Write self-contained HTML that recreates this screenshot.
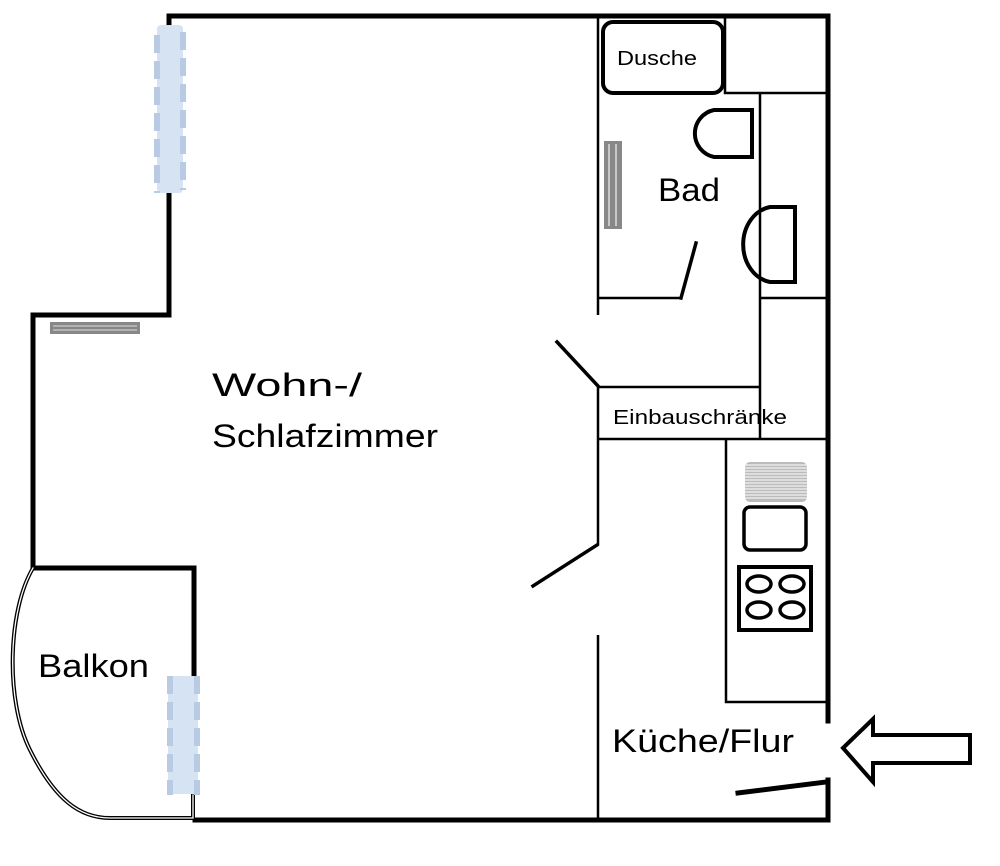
<!DOCTYPE html>
<html><head><meta charset="utf-8"><style>html,body{margin:0;padding:0;background:#fff;}svg{display:block}</style></head>
<body>
<svg width="1000" height="866" viewBox="0 0 1000 866" xmlns="http://www.w3.org/2000/svg" font-family="Liberation Sans, sans-serif">
<g stroke="#000" fill="none" stroke-linecap="square">
<!-- outer walls thick -->
<path d="M169 16 H828" stroke-width="5"/>
<path d="M169 16 V297" stroke-width="5"/>
<path d="M169 297 V315 H33 V568 H194 V680" stroke-width="5"/>
<path d="M195 820 H828 V780" stroke-width="5"/>
<path d="M828 16 V721" stroke-width="5"/>
<!-- balcony curve double -->
<path d="M33 568 C 8 610, 5 700, 30 750 C 55 800, 80 818, 110 818 H 193 V 795" stroke-width="4"/>
<path d="M33 568 C 8 610, 5 700, 30 750 C 55 800, 80 818, 110 818 H 193 V 795" stroke="#fff" stroke-width="1.3"/>
<!-- inner thin walls -->
<g stroke-width="2.5" stroke-linecap="butt">
<path d="M598 16 V315"/>
<path d="M598 298 H680 M760 298 H828"/>
<path d="M725 16 V93 H828"/>
<path d="M760 93 V440"/>
<path d="M598 387 H760 M598 387 V545"/>
<path d="M598 439 H828"/>
<path d="M598 635 V820"/>
<path d="M726 440 V702 H828"/>
</g>
<!-- doors -->
<path d="M557 342 L598 386" stroke-width="3.5"/>
<path d="M533 586 L597 545" stroke-width="3.5"/>
<path d="M696 243 L681 298" stroke-width="3.5"/>
<path d="M738 793 L826 782" stroke-width="5"/>
<!-- dusche -->
<rect x="603" y="22" width="120" height="71" rx="10" stroke-width="4"/>
<!-- toilet -->
<path d="M752 110 H714 A24 24 0 0 0 714 157 H752 Z" stroke-width="4"/>
<!-- sink -->
<path d="M795 207 H770 A32 38 0 0 0 770 282 H795 Z" stroke-width="4"/>
<!-- kitchen sink -->
<rect x="744" y="507" width="62" height="43" rx="6" stroke-width="3.5"/>
<!-- stove -->
<rect x="739" y="567" width="72" height="63" stroke-width="4"/>
<ellipse cx="759" cy="584" rx="12" ry="8" stroke-width="3.5"/>
<ellipse cx="792" cy="584" rx="12" ry="8" stroke-width="3.5"/>
<ellipse cx="759" cy="610" rx="12" ry="8" stroke-width="3.5"/>
<ellipse cx="792" cy="610" rx="12" ry="8" stroke-width="3.5"/>
<!-- arrow -->
<path d="M843 748 L873 719 V735 H970 V763 H873 V782 Z" stroke-width="4" stroke-linejoin="miter"/>
</g>
<!-- hatched -->
<rect x="745" y="462" width="62" height="40" rx="5" fill="#bbb"/>
<g stroke="#fff" stroke-width="1">
<path d="M745 465H807M745 468H807M745 471H807M745 474H807M745 477H807M745 480H807M745 483H807M745 486H807M745 489H807M745 492H807M745 495H807M745 498H807"/>
</g>
<!-- radiators -->
<rect x="50" y="322" width="90" height="12" fill="#888"/>
<path d="M53 326H137M53 330H137" stroke="#ddd" stroke-width="1"/>
<rect x="604" y="141" width="18" height="88" fill="#888"/>
<path d="M609 144V226M616 144V226" stroke="#ddd" stroke-width="1.5"/>
<!-- windows -->
<g fill="#d6e3f3">
<rect x="157" y="25" width="26" height="168" rx="4"/>
<rect x="168" y="676" width="30" height="118" rx="4"/>
</g>
<g stroke="#b8cbe3" stroke-width="6" stroke-dasharray="18 8" fill="none">
<path d="M157 35V193M183 32V190"/>
<path d="M170 676V795M197 676V795"/>
</g>
<!-- text -->
<g fill="#000">
<text x="212" y="396" font-size="32" textLength="150" lengthAdjust="spacingAndGlyphs">Wohn-/</text>
<text x="212" y="447" font-size="32" textLength="226" lengthAdjust="spacingAndGlyphs">Schlafzimmer</text>
<text x="658" y="201" font-size="32" textLength="62" lengthAdjust="spacingAndGlyphs">Bad</text>
<text x="617" y="65" font-size="20" textLength="80" lengthAdjust="spacingAndGlyphs">Dusche</text>
<text x="613" y="424" font-size="20" textLength="174" lengthAdjust="spacingAndGlyphs">Einbauschränke</text>
<text x="612" y="752" font-size="32" textLength="182" lengthAdjust="spacingAndGlyphs">Küche/Flur</text>
<text x="38" y="677" font-size="32" textLength="111" lengthAdjust="spacingAndGlyphs">Balkon</text>
</g>
</svg>
</body></html>
